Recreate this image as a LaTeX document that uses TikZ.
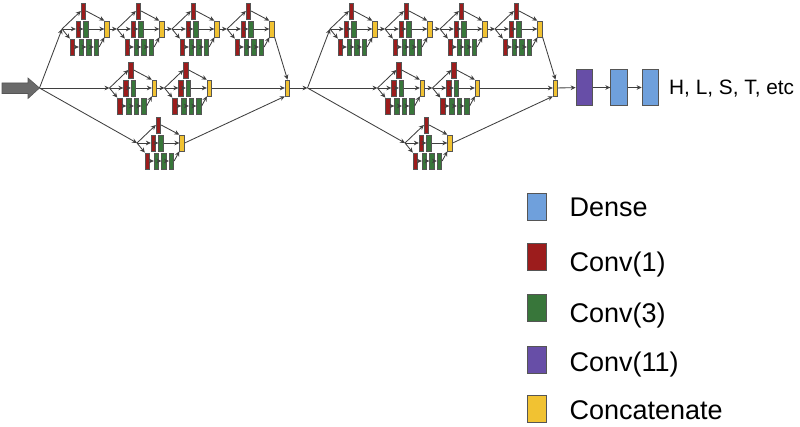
\documentclass[tikz,border=0pt]{standalone}
\usepackage{fontspec}
\setmainfont{Liberation Sans}
\usetikzlibrary{arrows.meta,calc}
\definecolor{cred}{HTML}{9C1C1C}
\definecolor{cgreen}{HTML}{38763A}
\definecolor{cpurple}{HTML}{674EA7}
\definecolor{cyellow}{HTML}{F1C232}
\definecolor{cblue}{HTML}{6FA0DC}
\definecolor{cborder}{HTML}{555555}
\definecolor{cline}{HTML}{3F3F3F}
\definecolor{cbig}{HTML}{6A6A6A}
\tikzset{
  blk/.style={draw=cborder, line width=0.7pt, minimum width=4.6pt, minimum height=16pt, inner sep=0pt},
  cvone/.style={blk, fill=cred},
  cvthree/.style={blk, fill=cgreen},
  cat/.style={blk, fill=cyellow},
  big/.style={draw=cborder, line width=0.8pt, minimum width=16.5pt, minimum height=36pt, inner sep=0pt},
  lgd/.style={draw=cborder, line width=0.8pt, minimum width=19pt, minimum height=27pt, inner sep=0pt},
  lgt/.style={anchor=base west, inner sep=0pt, font=\fontsize{27}{31}\selectfont},
  ar/.style={draw=cline, line width=0.85pt, -{Stealth[length=5pt,width=4.6pt]}},
}
\newcommand{\incmod}[3]{%
  \begin{scope}[shift={(#2,#3)}]
    \coordinate (#1s) at (0,0);
    \node[cvone] (#1t) at (21.5,-18) {};
    \node[cvone] (#1m) at (16.5,0) {};
    \node[cvthree] (#1n) at (24,0) {};
    \node[cvone] (#1a) at (10.5,18) {};
    \node[cvthree] (#1b) at (19.5,18) {};
    \node[cvthree] (#1c) at (27,18) {};
    \node[cvthree] (#1d) at (34.5,18) {};
    \node[cat] (#1o) at (45,0) {};
  \end{scope}
  \draw[ar] (#1s) -- (#1t.west);
  \draw[ar] (#1s) -- (#1m.west);
  \draw[ar] (#1m) -- (#1n);
  \draw[ar] (#1s) -- (#1a.north west);
  \draw[ar] (#1a) -- (#1b);
  \draw[ar] (#1b) -- (#1c);
  \draw[ar] (#1c) -- (#1d);
  \draw[ar] (#1t.east) -- (#1o.north west);
  \draw[ar] (#1n) -- (#1o);
  \draw[ar] (#1d.east) -- (#1o.south west);
}
\begin{document}
\begin{tikzpicture}[x=1pt,y=-1pt]
\useasboundingbox (0,0) rectangle (800,427);
% input arrow
\fill[cbig, draw=cborder, line width=0.6pt] (2,83) -- (28,83) -- (28,78) -- (39.5,88) -- (28,98.5) -- (28,93.5) -- (2,93.5) -- cycle;
\coordinate (inp) at (39.5,88);
% block 1
\incmod{pa}{62}{29}
\incmod{pb}{117}{29}
\incmod{pc}{172}{29}
\incmod{pd}{227}{29}
\incmod{qa}{109.5}{88}
\incmod{qb}{164.5}{88}
\incmod{ra}{137}{143}
\node[cat] (ka) at (287.5,88) {};
\draw[ar] (inp) -- (pas);
\draw[ar] (inp) -- (qas);
\draw[ar] (inp) -- (ras);
\draw[ar] (pao) -- (pbs);
\draw[ar] (pbo) -- (pcs);
\draw[ar] (pco) -- (pds);
\draw[ar] (qao) -- (qbs);
\draw[ar] (pdo.south east) -- (ka.north);
\draw[ar] (qbo) -- (ka);
\draw[ar] (rao.east) -- (ka.south west);
% block 2
\coordinate (inq) at (307.5,88);
\incmod{sa}{330}{29}
\incmod{sb}{385}{29}
\incmod{sc}{440}{29}
\incmod{sd}{495}{29}
\incmod{ua}{377.5}{88}
\incmod{ub}{432.5}{88}
\incmod{va}{405}{143}
\node[cat] (kb) at (555.5,88) {};
\draw[ar] (ka) -- (inq);
\draw[ar] (inq) -- (sas);
\draw[ar] (inq) -- (uas);
\draw[ar] (inq) -- (vas);
\draw[ar] (sao) -- (sbs);
\draw[ar] (sbo) -- (scs);
\draw[ar] (sco) -- (sds);
\draw[ar] (uao) -- (ubs);
\draw[ar] (sdo.south east) -- (kb.north);
\draw[ar] (ubo) -- (kb);
\draw[ar] (vao.east) -- (kb.south west);
% head
\node[big, fill=cpurple] (pu) at (584.3,87.5) {};
\node[big, fill=cblue] (da) at (619,87.5) {};
\node[big, fill=cblue] (db) at (650.3,87.5) {};
\draw[ar] (kb) -- (pu);
\draw[ar] (pu) -- (da);
\draw[ar] (da) -- (db);
\node[anchor=base west, inner sep=0pt, font=\fontsize{20.8}{24}\selectfont] (out) at (669,94.8) {H, L, S, T, etc};
% legend
\node[lgd, fill=cblue] (l1) at (537,206.5) {};
\node[lgd, fill=cred] (l2) at (537,257) {};
\node[lgd, fill=cgreen] (l3) at (537,307.5) {};
\node[lgd, fill=cpurple] (l4) at (537,360) {};
\node[lgd, fill=cyellow] (l5) at (537,409) {};
\node[lgt] (t1) at (569.3,216.8) {Dense};
\node[lgt] (t2) at (569.3,271.5) {Conv(1)};
\node[lgt] (t3) at (569.3,322.3) {Conv(3)};
\node[lgt] (t4) at (569.3,371.3) {Conv(11)};
\node[lgt] (t5) at (569.3,419.6) {Concatenate};
\end{tikzpicture}
\end{document}
